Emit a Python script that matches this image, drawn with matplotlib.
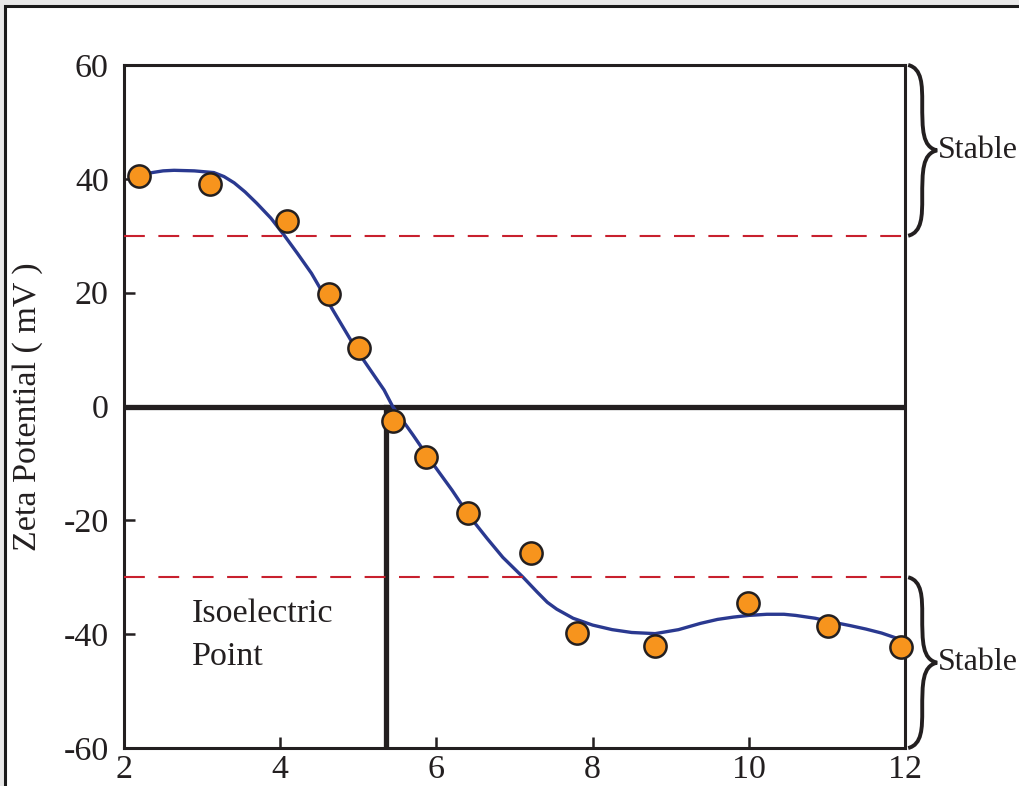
import numpy as np
import matplotlib.pyplot as plt
from matplotlib.patches import Rectangle, PathPatch
from matplotlib.path import Path
import matplotlib.transforms as mtransforms

plt.rcParams['font.family'] = ['Liberation Serif', 'DejaVu Serif']
plt.rcParams['axes.unicode_minus'] = False

# measured points (pH, zeta potential in mV)
ph_pts = [2.19, 3.10, 4.09, 4.62, 5.01, 5.44, 5.87, 6.40, 7.21, 7.80, 8.80, 9.99, 11.01, 11.95]
zeta_pts = [40.5, 39.1, 32.6, 19.8, 10.3, -2.6, -8.9, -18.7, -25.8, -39.8, -42.1, -34.6, -38.6, -42.3]

# fitted curve
ph_fit = [2.20, 2.36, 2.50, 2.64, 2.90, 3.15, 3.28, 3.41, 3.55, 3.70, 3.88, 4.05, 4.22, 4.40,
          4.65, 4.98, 5.33, 5.44, 5.70, 5.92, 6.20, 6.43, 6.65, 6.85, 7.11, 7.29, 7.42, 7.54,
          7.75, 8.00, 8.25, 8.50, 8.80, 9.10, 9.38, 9.60, 9.80, 10.00, 10.23, 10.45, 10.60,
          10.85, 11.08, 11.30, 11.50, 11.70, 11.85, 12.00]
zeta_fit = [40.6, 41.1, 41.4, 41.5, 41.4, 41.1, 40.4, 39.3, 37.7, 35.7, 33.1, 30.1, 26.9, 23.4,
            17.5, 9.9, 2.9, 0.0, -5.0, -9.4, -14.7, -19.4, -23.2, -26.5, -30.0, -32.6, -34.4, -35.6,
            -37.2, -38.4, -39.2, -39.7, -39.9, -39.2, -38.1, -37.4, -37.0, -36.7, -36.5, -36.5, -36.7,
            -37.2, -37.9, -38.5, -39.1, -39.8, -40.5, -41.2]

isoelectric_ph = 5.35
stable_limit = 30
fs = 24.5

fig = plt.figure(figsize=(10.2, 7.86), dpi=100, facecolor='#e8e8e8')

# white panel with dark frame
frame = Rectangle((5 / 1020, -0.2), 1.2, 1.2 - 6 / 786,
                  transform=fig.transFigure, facecolor='white',
                  edgecolor='#1a1a1a', linewidth=2.2, zorder=-10)
fig.add_artist(frame)

ax = fig.add_axes([0.1216, 0.0483, 0.7657, 0.869])
ax.set_facecolor('none')

ax.plot(ph_fit, zeta_fit, color='#2a3990', lw=2.4, zorder=3, solid_joinstyle='round')
ax.axhline(0, color='#231f20', lw=3.8, zorder=2)
ax.plot([isoelectric_ph, isoelectric_ph], [-60, 0], color='#231f20', lw=3.8, zorder=2)
for yy in (stable_limit, -stable_limit):
    ax.axhline(yy, color='#c8202e', lw=1.5, dashes=(10, 6.5), zorder=4)
ax.plot(ph_pts, zeta_pts, 'o', ms=16, mfc='#f7941d', mec='#231f20', mew=1.8,
        zorder=5, clip_on=False)

ax.set_xlim(2, 12)
ax.set_ylim(-60, 60)
ax.set_xticks([2, 4, 6, 8, 10, 12])
ax.set_yticks([-60, -40, -20, 0, 20, 40, 60])
ax.tick_params(direction='in', length=8, width=1.8, labelsize=fs, colors='#231f20')
ax.tick_params(axis='y', pad=11)
ax.tick_params(axis='x', pad=5)
for s in ax.spines.values():
    s.set_linewidth(2.2)
    s.set_color('#231f20')

ax.set_ylabel('Zeta Potential ( mV )', fontsize=fs, color='#231f20', labelpad=15)

ax.text(2.87, -40.2, 'Isoelectric\nPoint', fontsize=fs, color='#231f20',
        va='center', ha='left', linespacing=1.5)

# curly braces on the right
trans = mtransforms.blended_transform_factory(ax.transAxes, ax.transData)


def brace(y0, y1):
    x0, xs, xt = 1.004, 1.022, 1.041
    ym = (y0 + y1) / 2
    h = y1 - y0
    verts = [(x0, y1), (xs, y1 - 0.02 * h), (xs, y1 - 0.12 * h), (xs, y1 - 0.22 * h),
             (xs, ym + 0.12 * h), (xs, ym + 0.02 * h), (xt, ym),
             (xs, ym - 0.02 * h), (xs, ym - 0.12 * h), (xs, y0 + 0.22 * h),
             (xs, y0 + 0.12 * h), (xs, y0 + 0.02 * h), (x0, y0)]
    codes = [Path.MOVETO] + [Path.CURVE4] * 12
    p = PathPatch(Path(verts, codes), transform=trans, facecolor='none',
                  edgecolor='#231f20', lw=2.8, clip_on=False, zorder=6)
    ax.add_patch(p)
    ax.text(xt + 0.001, ym, 'Stable', transform=trans, fontsize=23,
            color='#231f20', va='center', ha='left', clip_on=False)


brace(stable_limit, 60)
brace(-60, -stable_limit)

fig.savefig('out.png', dpi=100, facecolor=fig.get_facecolor())
